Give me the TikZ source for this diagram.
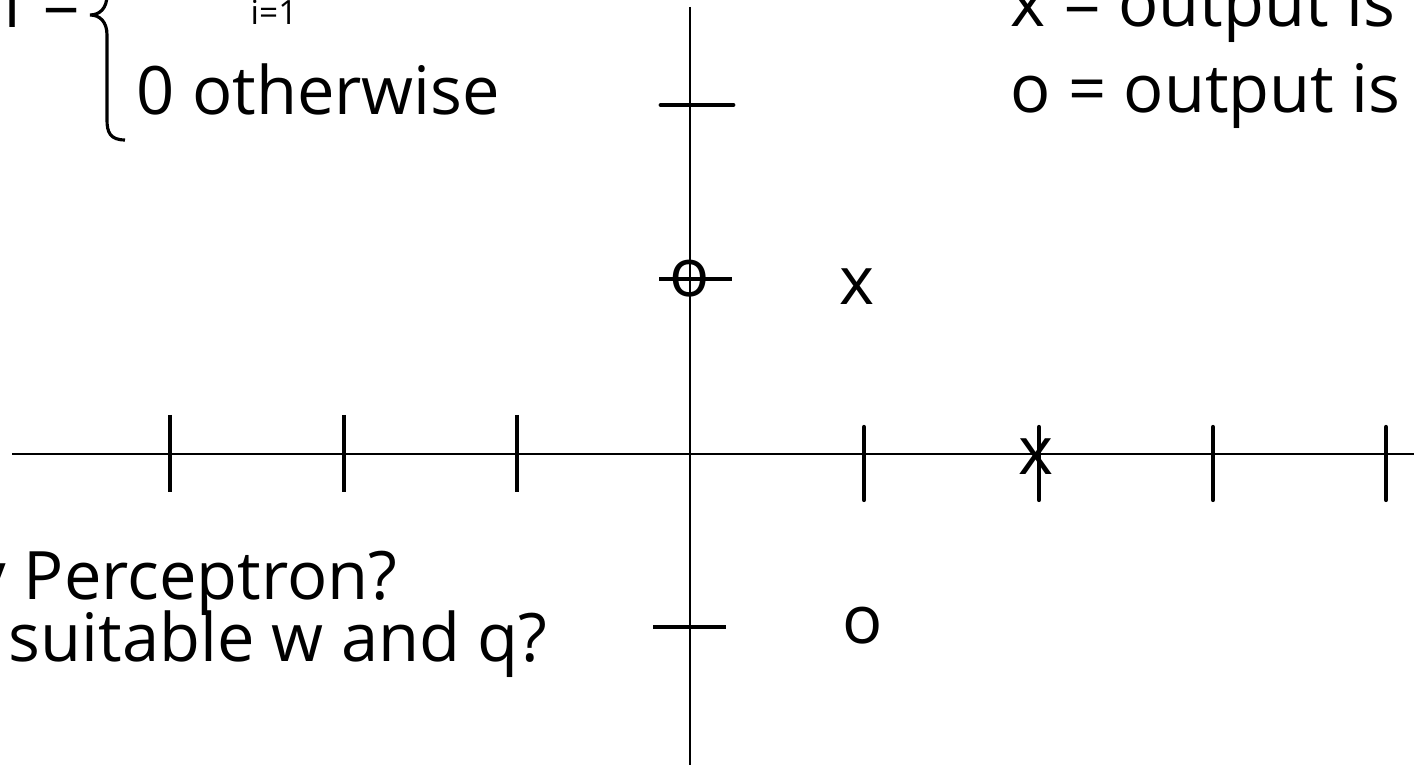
\documentclass[tikz,border=0pt]{standalone}
\usepackage{fontspec}
\setmainfont{Open Sans}
\usepackage{tikz}
\usetikzlibrary{positioning}

\begin{document}
\begin{tikzpicture}[x=0.01cm,y=-0.01cm,
  every node/.style={font=\fontsize{19}{23}\selectfont,inner sep=0pt},
  axisline/.style={line width=0.8pt},
  tickline/.style={line width=0.9pt},
  heavytick/.style={line width=1.2pt,line cap=round}]
  \useasboundingbox (0,0) rectangle (1414,765);
  \clip (0,0) rectangle (1414,765);
  % axes
  \coordinate (xl) at (12,454); \coordinate (xr) at (1420,454);
  \coordinate (yt) at (690,7);  \coordinate (yb) at (690,770);
  \draw[axisline] (xl) -- (xr);
  \draw[axisline] (yt) -- (yb);
  % ticks on the horizontal axis
  \foreach \t in {170,344,517} {\draw[tickline] (\t,415) -- (\t,492);}
  \foreach \t in {864,1039,1213,1386} {\draw[heavytick] (\t,427) -- (\t,500);}
  % ticks on the vertical axis
  \draw[heavytick,line width=1.4pt] (661,105) -- (733,105);
  \draw[tickline] (659,279) -- (732,279);
  \draw[tickline] (653,627) -- (726,627);
  % data points
  \node (ptA) at (690,279) {o};
  \node (ptB) at (857,287) {x};
  \node (ptC) at (1036,457) {x};
  \node (ptD) at (863,626) {o};
  % output rule
  \node[anchor=base west] (fdef) at (2,28) {f =};
  \draw[line width=0.9pt] (125,140) .. controls (110,140) and (107,132) .. (107,120)
    -- (107,35) .. controls (107,22) and (100,15) .. (90,15)
    .. controls (100,15) and (107,8) .. (107,-5) -- (107,-30);
  \node[anchor=base west,font=\fontsize{9.5}{11}\selectfont] (sumidx) at (250,25) {i=1};
  \node[anchor=base west] (otherw) at (136,115) {0 otherwise};
  % legend
  \node[anchor=base west] (legx) at (1010,27) {x = output is};
  \node[anchor=base west] (lego) at (1010,113) {o = output is};
  % question
  \node[anchor=base east] (askA) at (398,600) {by Perceptron?};
  \node[anchor=base west] (askB) at (8,662) {suitable w and q?};
\end{tikzpicture}
\end{document}
